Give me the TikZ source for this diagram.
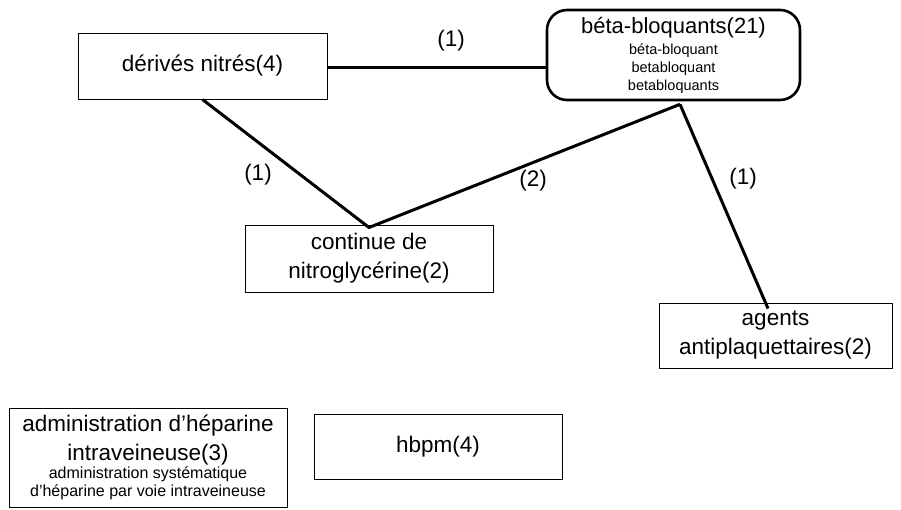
\documentclass[tikz,border=0pt]{standalone}
\usepackage{fontspec}
\setmainfont{Liberation Sans}
% smaller type for the synonym lines, same baselineskip as the main type
\newcommand{\betasyn}{\fontsize{14.5}{29}\selectfont}
\newcommand{\adminsyn}{\fontsize{16}{29}\selectfont}
\begin{document}
\begin{tikzpicture}[x=1pt,y=-1pt,
  box/.style={draw=black,line width=1pt,fill=white,inner sep=0pt,align=center,font=\fontsize{22.5}{29}\selectfont},
  roundbox/.style={box,line width=2.6pt,rounded corners=20pt},
  link/.style={line width=3pt,draw=black},
  lbl/.style={font=\fontsize{22.5}{26}\selectfont,inner sep=0pt}]
\useasboundingbox (0,0) rectangle (901,509);

% concept boxes
\node[box,minimum width=249pt,minimum height=66pt] (der) at (202.5,66) {dérivés nitrés(4)};
\node[roundbox,minimum width=253pt,minimum height=90pt] (beta) at (673.5,55)
  {\fontsize{22}{29}\selectfont béta-bloquants(21)\\[-8pt]\betasyn béta-bloquant\\[-11pt]\betasyn betabloquant\\[-11pt]\betasyn betabloquants};
\node[box,minimum width=248pt,minimum height=67pt] (cont) at (369,258.5) {continue de\\nitroglycérine(2)};
\node[box,minimum width=233pt,minimum height=65pt] (agents) at (775.5,335.5) {agents\\antiplaquettaires(2)};
\node[box,minimum width=278pt,minimum height=99pt] (admin) at (148,457.5)
  {administration d'héparine\\intraveineuse(3)\\[-11pt]\adminsyn administration systématique\\[-11pt]\adminsyn d'héparine par voie intraveineuse};
\node[box,minimum width=248pt,minimum height=65pt] (hbpm) at (438,446.5) {hbpm(4)};

% free ends of the connectors
\coordinate (apex) at ([yshift=-3pt]cont.north);
\coordinate (betafoot) at ([xshift=6.5pt,yshift=-3pt]beta.south);
\coordinate (agentstop) at ([xshift=-7.5pt,yshift=-6pt]agents.north);

% connectors
\draw[link] (der.east |- 0,67) -- (beta.west |- 0,67);
\draw[link] (der.south) -- (apex) -- (betafoot);
\draw[link] (betafoot) -- (agentstop);

% connector weights
\node[lbl] (w1) at (451,41) {(1)};
\node[lbl] (w2) at (258,175) {(1)};
\node[lbl] (w3) at (533,181) {(2)};
\node[lbl] (w4) at (743,179) {(1)};
\end{tikzpicture}
\end{document}
